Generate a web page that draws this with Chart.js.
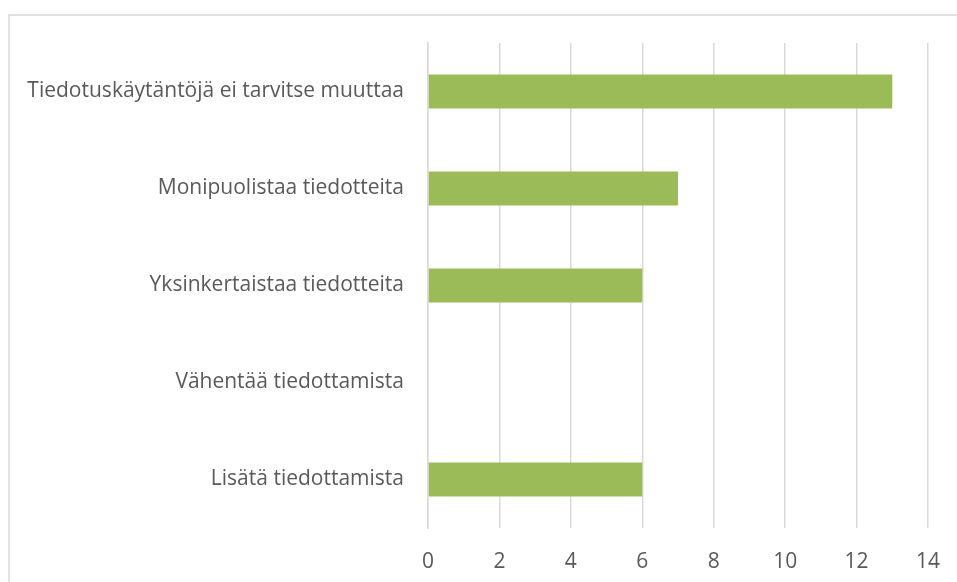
<!DOCTYPE html>
<html>
<head>
<meta charset="utf-8">
<script src="https://cdn.jsdelivr.net/npm/chart.js@4/dist/chart.umd.min.js"></script>
<style>
  html, body { margin: 0; padding: 0; background: #ffffff; }
  #wrap { position: relative; width: 957px; height: 582px; }
</style>
</head>
<body>
<div id="wrap"><canvas id="c" width="957" height="582"></canvas></div>
<script>
const categories = [
  "Tiedotuskäytäntöjä ei tarvitse muuttaa",
  "Monipuolistaa tiedotteita",
  "Yksinkertaistaa tiedotteita",
  "Vähentää tiedottamista",
  "Lisätä tiedottamista"
];
const values = [13, 7, 6, 0, 6];
const xTicks = [0, 2, 4, 6, 8, 10, 12, 14];

const framePlugin = {
  id: 'frame',
  beforeDraw(chart) {
    const ctx = chart.ctx;
    ctx.save();
    ctx.fillStyle = '#ffffff';
    ctx.fillRect(0, 0, chart.width, chart.height);
    ctx.strokeStyle = '#d9d9d9';
    ctx.lineWidth = 1.5;
    ctx.strokeRect(9, 15, chart.width + 20, chart.height + 20);
    ctx.restore();
  }
};

Chart.defaults.font.family = '"Open Sans", "DejaVu Sans", sans-serif';
Chart.defaults.color = '#595959';

new Chart(document.getElementById('c'), {
  type: 'bar',
  data: {
    labels: categories,
    datasets: [{
      data: values,
      backgroundColor: '#9bbb59',
      borderWidth: 0,
      barPercentage: 0.35,
      categoryPercentage: 1.0
    }]
  },
  options: {
    indexAxis: 'y',
    responsive: false,
    animation: false,
    layout: { padding: { top: 43, right: 29, left: 0, bottom: 0 } },
    plugins: { legend: { display: false }, tooltip: { enabled: false } },
    scales: {
      x: {
        min: 0, max: 14,
        afterBuildTicks(scale) { scale.ticks = xTicks.map(v => ({ value: v })); },
        afterFit(scale) { scale.height = 54; scale.paddingRight = 0; scale.paddingLeft = 0; },
        grid: { color: '#d9d9d9', lineWidth: 1.5, drawTicks: false },
        border: { display: false },
        ticks: { padding: 21, font: { size: 21 }, color: '#595959' }
      },
      y: {
        afterFit(scale) { scale.width = 428; scale.paddingTop = 0; scale.paddingBottom = 0; },
        grid: { display: false },
        border: { display: true, color: '#d9d9d9', width: 1.5 },
        ticks: { padding: 16, font: { size: 21 }, color: '#595959' }
      }
    }
  },
  plugins: [framePlugin]
});
</script>
</body>
</html>
